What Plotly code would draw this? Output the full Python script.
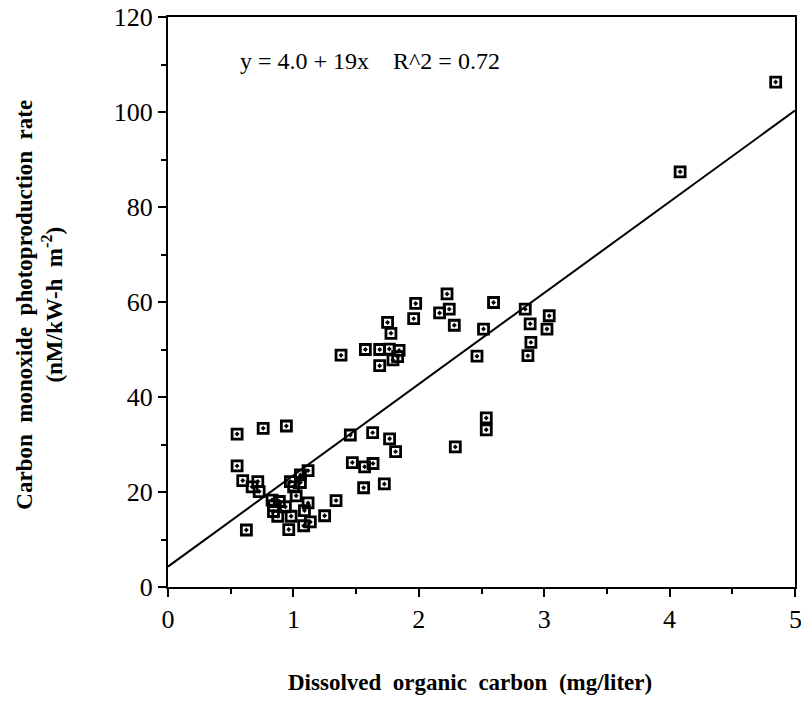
import plotly.graph_objects as go

doc = [0.551, 0.759, 0.944, 1.454, 0.551, 1.470, 0.596, 0.716, 0.671, 0.727,
       1.056, 1.117, 0.976, 1.056, 1.002, 1.022, 1.117, 1.340, 0.830, 0.888,
       0.843, 0.936, 0.841, 0.875, 0.982, 1.088, 1.249, 1.135, 1.082, 0.625,
       0.963, 1.560, 1.725, 1.632, 1.767, 1.815, 1.568, 1.635,
       2.225, 1.975, 2.596, 2.166, 2.243, 1.751, 1.959, 2.283, 2.516, 1.778,
       1.380, 1.574, 1.688, 1.765, 1.843, 1.794, 1.831, 1.688, 2.464, 2.538,
       2.538, 2.291, 2.849, 3.040, 2.888, 3.022, 2.894, 2.870, 4.084, 4.846]
co_rate = [32.2, 33.4, 33.9, 32.0, 25.5, 26.2, 22.4, 22.2, 21.1, 20.1,
           23.6, 24.5, 22.2, 22.0, 21.1, 19.2, 17.7, 18.2, 18.3, 18.0,
           17.1, 16.9, 15.9, 14.9, 14.9, 16.1, 15.0, 13.7, 12.9, 12.0,
           12.1, 20.9, 21.7, 32.5, 31.2, 28.5, 25.3, 26.0,
           61.7, 59.7, 59.9, 57.7, 58.5, 55.7, 56.5, 55.1, 54.3, 53.4,
           48.8, 50.0, 50.0, 50.1, 49.8, 47.8, 48.5, 46.6, 48.6, 35.6,
           33.1, 29.5, 58.5, 57.1, 55.4, 54.3, 51.5, 48.7, 87.4, 106.3]

fit_intercept = 4.3
fit_slope = 19.2
fit_x = [0, 5]
fit_y = [fit_intercept + fit_slope * v for v in fit_x]

x_ticks = [0, 1, 2, 3, 4, 5]
y_ticks = [0, 20, 40, 60, 80, 100, 120]

FONT = "Liberation Serif"
SP = "\u00a0\u00a0"

fig = go.Figure()
fig.add_trace(go.Scatter(x=fit_x, y=fit_y, mode="lines",
                         line=dict(color="black", width=2), hoverinfo="skip"))
fig.add_trace(go.Scatter(x=doc, y=co_rate, mode="markers",
                         marker=dict(symbol="square-open-dot", size=10, color="black",
                                     line=dict(width=2.8, color="black"))))

# last x tick label sits on the page edge; draw it as an annotation so it is not dropped
x_ticktext = [str(v) for v in x_ticks[:-1]] + [""]

fig.update_layout(
    width=801, height=701,
    margin=dict(l=167.5, r=6, t=17, b=114),
    paper_bgcolor="white", plot_bgcolor="white",
    showlegend=False,
    font=dict(family=FONT, color="black", size=24),
    xaxis=dict(range=[0, 5], tickvals=x_ticks, ticktext=x_ticktext,
               automargin=False,
               showgrid=False, zeroline=False, showline=True, linecolor="black",
               linewidth=2, mirror=True, ticks="outside", ticklen=8, tickwidth=1.5,
               tickcolor="black", tickfont=dict(size=26, family=FONT),
               minor=dict(dtick=0.5, ticks="outside", ticklen=5, tickcolor="black", tickwidth=1.5)),
    yaxis=dict(range=[0, 120], tickvals=y_ticks, ticktext=[str(v) for v in y_ticks],
               automargin=False,
               showgrid=False, zeroline=False, showline=True, linecolor="black",
               linewidth=2, mirror=True, ticks="outside", ticklen=8, tickwidth=1.5,
               tickcolor="black", tickfont=dict(size=26, family=FONT),
               minor=dict(dtick=10, ticks="outside", ticklen=5, tickcolor="black", tickwidth=1.5)),
    annotations=[
        dict(x=x_ticks[-1], y=0, xref="x", yref="paper", xanchor="center", yanchor="top",
             yshift=-16, text=str(x_ticks[-1]), showarrow=False,
             font=dict(family=FONT, size=26, color="black")),
        dict(x=0.56, y=110.8, xref="x", yref="y", xanchor="left", yanchor="middle",
             text="y = 4.0 + 19x" + SP + SP + "R^2 = 0.72", showarrow=False,
             font=dict(family=FONT, size=24, color="black")),
        dict(x=-0.2045, y=0.495, xref="paper", yref="paper", textangle=-90,
             xanchor="center", yanchor="middle", showarrow=False,
             text="<b>Carbon" + SP + "monoxide" + SP + "photoproduction" + SP + "rate</b><br>"
                  "<b>(nM/kW-h" + SP + "m<sup>-2</sup>)</b>",
             font=dict(family=FONT, size=23, color="black")),
        dict(x=0.482, y=-0.168, xref="paper", yref="paper",
             xanchor="center", yanchor="middle", showarrow=False,
             text="<b>Dissolved" + SP + "organic" + SP + "carbon" + SP + "(mg/liter)</b>",
             font=dict(family=FONT, size=23, color="black")),
    ],
)

fig.write_html("out.html")
